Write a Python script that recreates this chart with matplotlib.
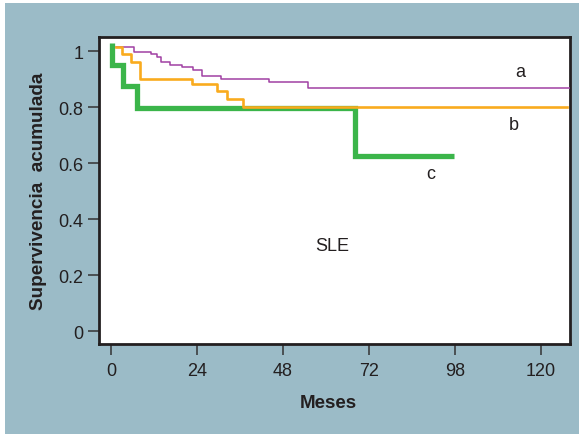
import matplotlib
matplotlib.use("Agg")
import matplotlib.pyplot as plt
from matplotlib.patches import Rectangle

plt.rcParams['font.family'] = ['Liberation Sans', 'DejaVu Sans']

# ---- data (months, cumulative survival) ----
a_t = [1.4, 6.5, 11.2, 12.7, 14.0, 16.5, 19.7, 22.8, 25.4, 30.6, 44.2, 55.1, 128.0]
a_s = [1.015, 0.998, 0.991, 0.979, 0.960, 0.950, 0.944, 0.932, 0.912, 0.899, 0.889, 0.869, 0.869]

b_t = [1.4, 3.2, 5.7, 8.1, 22.6, 29.7, 32.3, 36.9, 127.3]
b_s = [1.015, 0.990, 0.960, 0.899, 0.882, 0.857, 0.829, 0.799, 0.799]

c_t = [0.3, 0.3, 3.4, 7.3, 68.1, 95.7]
c_s = [1.03, 0.950, 0.875, 0.796, 0.626, 0.626]

x_ticks = [0, 24, 48, 72, 96, 120]
x_ticklabels = ['0', '24', '48', '72', '98', '120']
y_ticks = [0, 0.2, 0.4, 0.6, 0.8, 1.0]
y_ticklabels = ['0', '0.2', '0.4', '0.6', '0.8', '1']

W, H = 579, 435
fig = plt.figure(figsize=(W / 100, H / 100), dpi=100, facecolor='white')
bg = Rectangle((5 / W, 0), 1 - 5 / W, 1 - 4 / H, transform=fig.transFigure,
               facecolor='#9bbbc7', edgecolor='none', zorder=-10)
fig.add_artist(bg)

ax = fig.add_axes([99 / W, 1 - 345 / H, (570 - 99) / W, (345 - 38) / H])
ax.set_zorder(5)
ax.set_facecolor('white')

ax.plot(c_t, c_s, drawstyle='steps-post', color='#3bb54a', lw=3.8,
        solid_joinstyle='miter', solid_capstyle='butt', zorder=2)
ax.plot(a_t, a_s, drawstyle='steps-post', color='#a040a3', lw=1.1, zorder=3)
ax.plot(b_t, b_s, drawstyle='steps-post', color='#f9ab1e', lw=1.9, zorder=4)

ax.set_xlim(-3.35, 128.1)
ax.set_ylim(-0.046, 1.05)
ax.set_xticks(x_ticks)
ax.set_xticklabels(x_ticklabels)
ax.set_yticks(y_ticks)
ax.set_yticklabels(y_ticklabels)

for sp in ax.spines.values():
    sp.set_linewidth(2.0)
    sp.set_color('#231f20')

ax.tick_params(axis='x', direction='out', length=8, width=1.1, color='#333333',
               pad=5, labelsize=13, labelcolor='#231f20')
ax.tick_params(axis='y', direction='out', length=8, width=1.1, color='#333333',
               pad=3, labelsize=13, labelcolor='#231f20')

ax.text(114.3, 0.926, 'a', fontsize=13, ha='center', va='center', color='#231f20')
ax.text(112.5, 0.739, 'b', fontsize=13, ha='center', va='center', color='#231f20')
ax.text(89.2, 0.561, 'c', fontsize=13, ha='center', va='center', color='#231f20')
ax.text(61.7, 0.307, 'SLE', fontsize=13, ha='center', va='center', color='#231f20')

fig.text(328.6 / W, 1 - 404 / H, 'Meses', fontsize=13.5, fontweight='bold',
         ha='center', va='center', color='#231f20', zorder=6)
fig.text(38.3 / W, 1 - 191 / H, 'Supervivencia  acumulada', fontsize=13.6, fontweight='bold',
         rotation=90, ha='center', va='center', color='#231f20', zorder=6)

fig.savefig('out.png', dpi=100, facecolor=fig.get_facecolor())
